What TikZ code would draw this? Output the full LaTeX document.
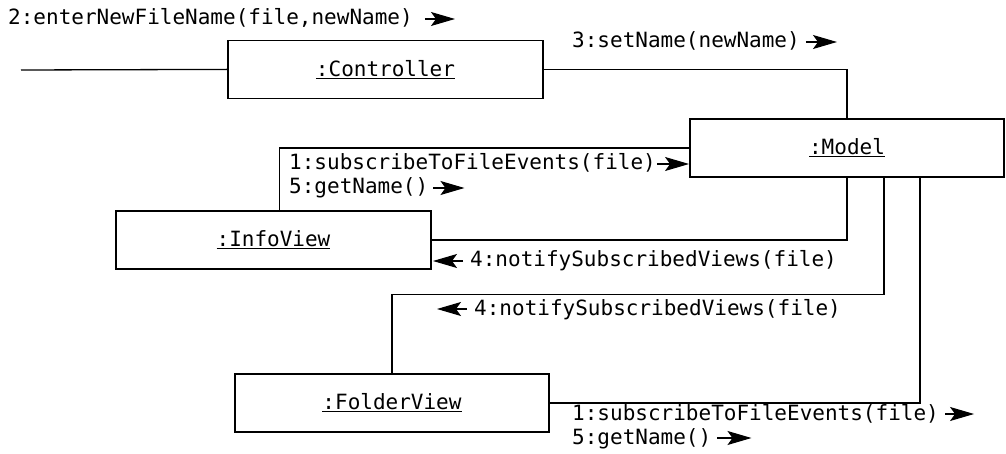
\documentclass[tikz,border=0pt]{standalone}
\usepackage{fontspec}
\setmonofont{DejaVu Sans Mono}
\usetikzlibrary{arrows.meta,calc}
\begin{document}
\begin{tikzpicture}[x=1pt,y=-1pt,
  every node/.style={font=\ttfamily\fontsize{21}{25}\selectfont},
  obj/.style={draw,line width=1.3pt,minimum width=315pt,minimum height=58pt,inner sep=0pt},
  lab/.style={anchor=base west,inner sep=0pt},
  conn/.style={line width=1.3pt},
  msg/.style={line width=1.1pt,-{Stealth[length=24pt,width=14pt,inset=5pt]}}]
\useasboundingbox (0,0) rectangle (1006,454);
% objects
\node[obj] (ctrl) at (385.5,69.4) {\underline{:Controller}};
\node[obj,minimum width=314pt] (model) at (847,148) {\underline{:Model}};
\node[obj] (info) at (273.5,240) {\underline{:InfoView}};
\node[obj,minimum width=314pt] (folder) at (392,403) {\underline{:FolderView}};
% connectors
\coordinate (ctrlin) at (21,70);
\draw[conn] (ctrlin) -- (ctrl.west);
\draw[conn] (ctrl.east) -| (model.north);
\draw[conn] ([xshift=164pt]info.north west) |- (model.west);
\draw[conn] (info.east) -| (model.south);
\draw[conn] ([xshift=37pt]model.south) |- ($(folder.north)+(0,-79)$) -- (folder.north);
\draw[conn] ([xshift=73pt]model.south) |- (folder.east);
% messages
\node[lab] (m2) at (8,25) {2:enterNewFileName(file,newName)};
\draw[msg] ([xshift=12pt,yshift=6pt]m2.base east) -- ++(30,0);
\node[lab] (m3) at (572,48) {3:setName(newName)};
\draw[msg] ([xshift=6pt,yshift=6pt]m3.base east) -- ++(31,0);
\node[lab] (m1a) at (289,170) {1:subscribeToFileEvents(file)};
\draw[msg] ([xshift=1pt,yshift=6pt]m1a.base east) -- ++(32,0);
\node[lab] (m5a) at (289,194) {5:getName()};
\draw[msg] ([xshift=5pt,yshift=6pt]m5a.base east) -- ++(31,0);
\node[lab] (m4a) at (470,267) {4:notifySubscribedViews(file)};
\draw[msg] ([xshift=-7pt,yshift=6pt]m4a.base west) -- ++(-30,0);
\node[lab] (m4b) at (474,315) {4:notifySubscribedViews(file)};
\draw[msg] ([xshift=-7pt,yshift=6pt]m4b.base west) -- ++(-30,0);
\node[lab] (m1b) at (572,420) {1:subscribeToFileEvents(file)};
\draw[msg] ([xshift=6pt,yshift=6pt]m1b.base east) -- ++(29,0);
\node[lab] (m5b) at (572,444) {5:getName()};
\draw[msg] ([xshift=6pt,yshift=6pt]m5b.base east) -- ++(34,0);
\end{tikzpicture}
\end{document}
